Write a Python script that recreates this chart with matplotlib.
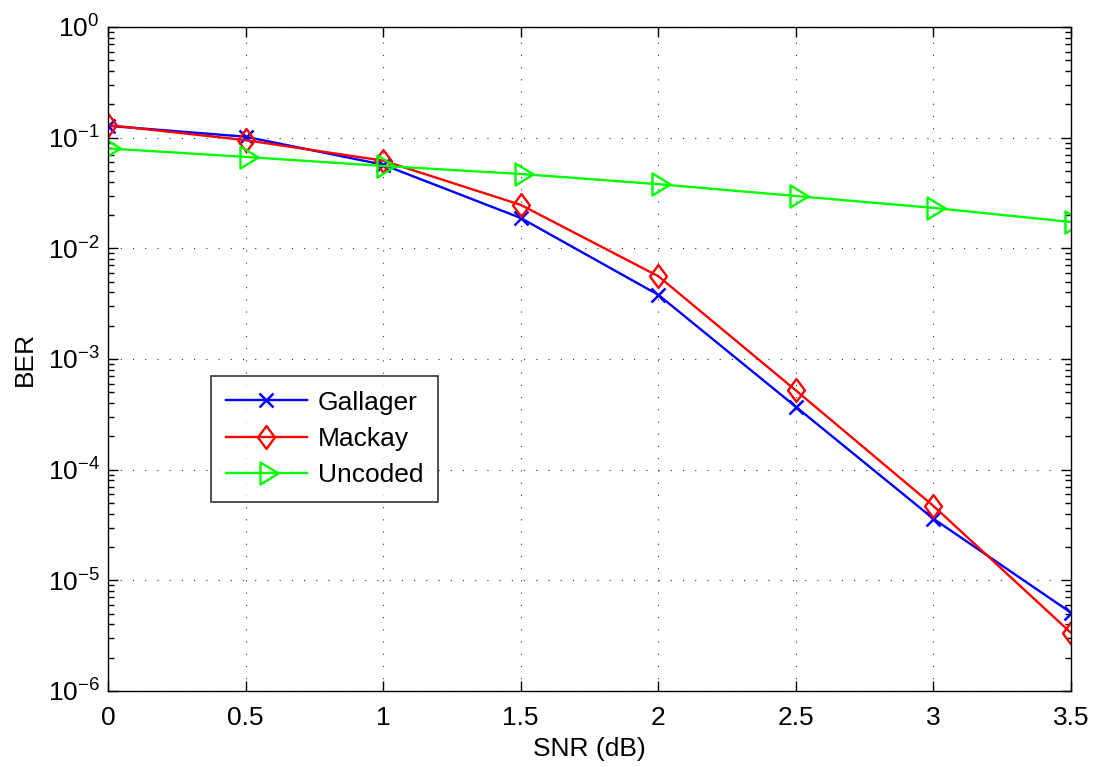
import matplotlib
matplotlib.use("Agg")
import matplotlib.pyplot as plt
from matplotlib.path import Path
from matplotlib.ticker import FixedLocator, NullFormatter

plt.rcParams['font.family'] = ['Liberation Sans', 'DejaVu Sans']
plt.rcParams['mathtext.fontset'] = 'custom'
plt.rcParams['mathtext.rm'] = 'Liberation Sans'
plt.rcParams['mathtext.it'] = 'Liberation Sans'

snr = [0, 0.5, 1, 1.5, 2, 2.5, 3, 3.5]
ber_gallager = [0.128, 0.102, 0.057, 0.0188, 0.0038, 3.7e-4, 3.6e-5, 5.1e-6]
ber_mackay = [0.13, 0.095, 0.062, 0.0247, 0.0056, 5.2e-4, 4.7e-5, 3.35e-6]
ber_uncoded = [0.080, 0.067, 0.0555, 0.047, 0.038, 0.0297, 0.0232, 0.0173]
xticks = [0, 0.5, 1, 1.5, 2, 2.5, 3, 3.5]
xticklabels = ['0', '0.5', '1', '1.5', '2', '2.5', '3', '3.5']
yexponents = [-6, -5, -4, -3, -2, -1, 0]

# MATLAB-like marker shapes: a tall rhombus and a right triangle centred on its centroid
diamond = Path([(0, 1), (0.74, 0), (0, -1), (-0.74, 0), (0, 1)],
               [Path.MOVETO, Path.LINETO, Path.LINETO, Path.LINETO, Path.CLOSEPOLY])
tri_right = Path([(-0.5, -0.92), (1, 0), (-0.5, 0.92), (-0.5, -0.92)],
                 [Path.MOVETO, Path.LINETO, Path.LINETO, Path.CLOSEPOLY])

fig = plt.figure(figsize=(10.94, 7.67), dpi=100)
ax = fig.add_axes([0.0987, 0.0991, 0.8803, 0.8657])

ax.semilogy(snr, ber_gallager, color='#0000ff', marker='x', markersize=9.5,
            markeredgewidth=1.8, linewidth=1.7, label='Gallager')
ax.semilogy(snr, ber_mackay, color='#ff0000', marker=diamond, markersize=16.5,
            markerfacecolor='none', markeredgewidth=1.7, linewidth=1.7,
            label='Mackay')
ax.semilogy(snr, ber_uncoded, color='#00ff00', marker=tri_right, markersize=17.3,
            markerfacecolor='none', markeredgewidth=1.7, linewidth=1.7,
            label='Uncoded')

ax.set_xlim(0, 3.5)
ax.set_ylim(1e-6, 1)
ax.set_xticks(xticks)
ax.set_xticklabels(xticklabels)
ax.set_yticks([10.0 ** e for e in yexponents])
ax.set_yticklabels([r'$10^{%d}$' % e for e in yexponents])
minor = [m * 10.0 ** e for e in yexponents[:-1] for m in range(2, 10)]
ax.yaxis.set_minor_locator(FixedLocator(minor))
ax.yaxis.set_minor_formatter(NullFormatter())

ax.tick_params(which='both', direction='in', top=True, right=True,
               labelsize=19, width=1)
ax.tick_params(which='major', length=7)
ax.tick_params(which='minor', length=4)
ax.tick_params(axis='x', pad=11)
ax.tick_params(axis='y', pad=6)

ax.grid(True, which='major', linestyle=(0, (1, 10)), color='#333333',
        linewidth=0.8)
for s in ax.spines.values():
    s.set_linewidth(1)

ax.set_xlabel('SNR (dB)', fontsize=19, labelpad=5)
ax.set_ylabel('BER', fontsize=19, labelpad=8)

leg = ax.legend(loc='upper left', bbox_to_anchor=(0.107, 0.4744),
                fontsize=19, handlelength=3.1, frameon=True, fancybox=False,
                edgecolor='black', borderpad=0.55, labelspacing=0.47,
                handletextpad=0.4, borderaxespad=0)
leg.get_frame().set_linewidth(1.2)

fig.savefig('out.png', dpi=100, facecolor='white')
